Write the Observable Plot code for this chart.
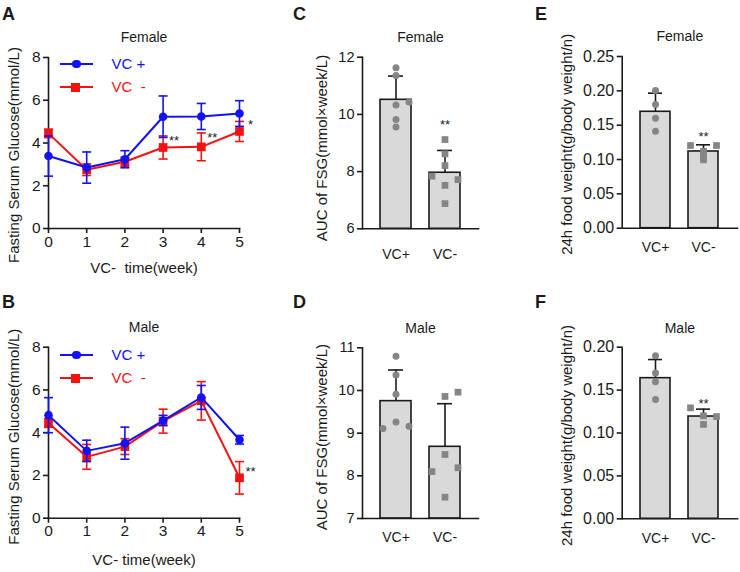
<!DOCTYPE html>
<html>
<head>
<meta charset="utf-8">
<script src="https://cdn.jsdelivr.net/npm/d3@7"></script>
<script src="https://cdn.jsdelivr.net/npm/@observablehq/plot@0.6"></script>
<style>
  body { margin: 0; background: #fff; }
  #fig { position: relative; width: 740px; height: 572px; overflow: hidden;
         font-family: "Liberation Sans", Arial, Helvetica, sans-serif; color: #1a1a1a; }
  #fig svg text { white-space: pre; }
  .letter { position: absolute; font-weight: bold; font-size: 18px; line-height: 1; }
  .lg-line { position: absolute; height: 2px; }
  .lg-text { position: absolute; font-size: 15px; line-height: 18px; white-space: pre; }
</style>
</head>
<body>
<div id="fig"></div>
<script>
// ---------------- data ----------------
const weeks = [0, 1, 2, 3, 4, 5];
const glucoseTicks = [0, 2, 4, 6, 8];
const groups = ["VC+", "VC-"];

// Panel A – Female fasting serum glucose (mean, SD)
const femalePlusMean  = [3.39, 2.85, 3.24, 5.23, 5.24, 5.38];
const femalePlusSD    = [0.94, 0.73, 0.40, 0.97, 0.61, 0.60];
const femaleMinusMean = [4.45, 2.75, 3.12, 3.79, 3.82, 4.54];
const femaleMinusSD   = [0.20, 0.27, 0.21, 0.54, 0.65, 0.47];
const femaleStarWeeks = [3, 4, 5];
const femaleStarY     = [4.25, 4.38, 4.98];
const femaleStarText  = ["**", "**", "*"];

// Panel B – Male fasting serum glucose
const malePlusMean  = [4.82, 3.15, 3.51, 4.57, 5.65, 3.67];
const malePlusSD    = [0.82, 0.50, 0.75, 0.24, 0.56, 0.20];
const maleMinusMean = [4.45, 2.87, 3.35, 4.54, 5.49, 1.89];
const maleMinusSD   = [0.20, 0.58, 0.37, 0.56, 0.90, 0.76];
const maleStarWeeks = [5];
const maleStarY     = [2.3];
const maleStarText  = ["**"];

// Panel C – AUC of FSG, Female
const aucFemaleMean = [10.51, 7.96];
const aucFemaleSD   = [0.83, 0.78];
const aucFemalePlus      = [11.63, 11.36, 10.43, 10.33, 9.82, 9.56];
const aucFemalePlusLane  = [0, 0, 1, 0, 0, 0];
const aucFemaleMinus     = [9.12, 8.62, 8.21, 7.84, 7.72, 7.52, 6.88];
const aucFemaleMinusLane = [0, 0, 0, -1, 1, 0, 0];
const aucFemaleTicks = [6, 8, 10, 12];

// Panel D – AUC of FSG, Male
const aucMaleMean = [9.75, 8.68];
const aucMaleSD   = [0.73, 1.01];
const aucMalePlus      = [10.80, 10.36, 9.91, 9.26, 9.11, 9.16];
const aucMalePlusLane  = [0, 0, 0, 0, -1, 1];
const aucMaleMinus     = [9.86, 9.96, 8.50, 8.10, 8.19, 7.50];
const aucMaleMinusLane = [0, 1, 0, -1, 1, 0];
const aucMaleTicks = [7, 8, 9, 10, 11];

// Panel E – 24h food weight, Female
const foodFemaleMean = [0.1695, 0.1117];
const foodFemaleSD   = [0.0271, 0.0097];
const foodFemalePlus      = [0.2005, 0.180, 0.160, 0.141];
const foodFemalePlusLane  = [0, 0, 0, 0];
const foodFemaleMinus     = [0.1204, 0.1204, 0.112, 0.105, 0.0995];
const foodFemaleMinusLane = [-1, 1, 0, 0, 0];
const foodFemaleTicks = [0, 0.05, 0.10, 0.15, 0.20, 0.25];

// Panel F – 24h food weight, Male
const foodMaleMean = [0.1639, 0.1192];
const foodMaleSD   = [0.0217, 0.0086];
const foodMalePlus      = [0.190, 0.170, 0.1596, 0.139];
const foodMalePlusLane  = [0, 0, 0, 0];
const foodMaleMinus     = [0.1293, 0.120, 0.1192, 0.110];
const foodMaleMinusLane = [-1, 0, 1, 0];
const foodMaleTicks = [0, 0.05, 0.10, 0.15, 0.20];

// ---------------- styling ----------------
const FONT = "Liberation Sans, Arial, Helvetica, sans-serif";
const INK = "#1a1a1a", BLUE = "#1212f2", RED = "#f21212";
const BAR_FILL = "#d9d9d9", DOT_FILL = "#858585";
const SW = 1.6;
const fig = document.getElementById("fig");

const capSymbol = {
  draw(ctx, size) { const r = Math.sqrt(size / Math.PI); ctx.moveTo(-r, 0); ctx.lineTo(r, 0); }
};

function place(node, left, top) {
  node.style.position = "absolute";
  node.style.left = left + "px";
  node.style.top = top + "px";
  fig.appendChild(node);
}
function baseStyle() {
  return {fontFamily: FONT, fontSize: "15px", color: INK, background: "transparent", overflow: "visible"};
}
function titleMarks(title, titleDy, yTitle, yDx, yDy, yTitleSize) {
  return [
    Plot.text([title], {text: d => d, frameAnchor: "top", dy: titleDy, lineAnchor: "middle",
                        textAnchor: "middle", fontSize: 14, fill: INK}),
    Plot.text([yTitle], {text: d => d, frameAnchor: "left", rotate: -90, dx: yDx, dy: yDy,
                         lineAnchor: "middle", textAnchor: "middle", fontSize: yTitleSize, fill: INK})
  ];
}

// ---------------- line panels (A, B) ----------------
function linePanel(p) {
  const rows = (grp, mean, sd) => weeks.map((w, i) => ({week: w, group: grp, mean: mean[i], lo: mean[i] - sd[i], hi: mean[i] + sd[i]}));
  const plus = rows("VC+", p.plusMean, p.plusSD);
  const minus = rows("VC-", p.minusMean, p.minusSD);
  const stars = p.starWeeks.map((w, i) => ({week: w, y: p.starY[i], label: p.starText[i]}));
  const marks = [
    Plot.frame({anchor: "left", stroke: INK, strokeWidth: SW}),
    Plot.frame({anchor: "bottom", stroke: INK, strokeWidth: SW}),
    Plot.axisY({ticks: glucoseTicks, tickFormat: d3.format("d"), tickSize: 5, tickPadding: 3, label: null, strokeWidth: SW, fontSize: 15.5}),
    Plot.axisX({ticks: weeks, tickFormat: d3.format("d"), tickSize: 5, tickPadding: 2, label: null, strokeWidth: SW, fontSize: 15.5})
  ];
  for (const [data, color, sym, r] of [[minus, RED, "square", 4.9], [plus, BLUE, "circle", 4.3]]) {
    marks.push(
      Plot.ruleX(data, {x: "week", y1: "lo", y2: "hi", stroke: color, strokeWidth: SW}),
      Plot.dot(data, {x: "week", y: "lo", symbol: capSymbol, r: 4.5, stroke: color, strokeWidth: SW, fill: "none"}),
      Plot.dot(data, {x: "week", y: "hi", symbol: capSymbol, r: 4.5, stroke: color, strokeWidth: SW, fill: "none"}),
      Plot.line(data, {x: "week", y: "mean", stroke: color, strokeWidth: 2}),
      Plot.dot(data, {x: "week", y: "mean", symbol: sym, r, fill: color, stroke: "none"})
    );
  }
  marks.push(
    Plot.text(stars, {x: "week", y: "y", text: "label", dx: 11, dy: 3, fontSize: 13, fill: INK, lineAnchor: "middle"}),
    Plot.text([p.xTitle], {text: d => d, frameAnchor: "bottom", dy: p.xTitleDy, lineAnchor: "middle", textAnchor: "middle", fontSize: 15, fill: INK}),
    ...titleMarks(p.title, -20, "Fasting Serum Glucose(mmol/L)", -34, p.yTitleDy, 15)
  );
  const svg = Plot.plot({
    width: p.w, height: p.h,
    marginLeft: p.ml, marginRight: p.mr, marginTop: p.mt, marginBottom: p.mb,
    x: {domain: [0, 5]},
    y: {domain: [0, 8]},
    style: baseStyle(),
    marks
  });
  place(svg, p.left, p.top);
}

// ---------------- bar panels (C–F) ----------------
function barPanel(p) {
  const base = p.yDomain[0];
  const bars = groups.map((g, i) => ({group: g, base, mean: p.mean[i], hi: p.mean[i] + p.sd[i]}));
  const pts = [
    ...p.plus.map((v, i) => ({group: "VC+", value: v, lane: p.plusLane[i]})),
    ...p.minus.map((v, i) => ({group: "VC-", value: v, lane: p.minusLane[i]}))
  ];
  const marks = [
    Plot.barY(bars, {x: "group", y1: "base", y2: "mean", fill: BAR_FILL, stroke: INK, strokeWidth: SW}),
    Plot.ruleX(bars, {x: "group", y1: "mean", y2: "hi", stroke: INK, strokeWidth: SW}),
    Plot.tickY(bars, {x: "group", y: "hi", stroke: INK, strokeWidth: SW, insetLeft: 8, insetRight: 8})
  ];
  for (const lane of [-1, 0, 1]) {
    marks.push(
      Plot.dot(pts.filter(d => d.lane === lane && d.group === "VC+"), {x: "group", y: "value", dx: lane * 13, r: 3.5, symbol: "circle", fill: DOT_FILL, stroke: "none"}),
      Plot.dot(pts.filter(d => d.lane === lane && d.group === "VC-"), {x: "group", y: "value", dx: lane * 13, r: 3.8, symbol: "square", fill: DOT_FILL, stroke: "none"})
    );
  }
  marks.push(
    Plot.frame({anchor: "left", stroke: INK, strokeWidth: SW}),
    Plot.frame({anchor: "bottom", stroke: INK, strokeWidth: SW}),
    Plot.axisY({ticks: p.ticks, tickFormat: p.tickFormat, tickSize: 5, tickPadding: 3, label: null, strokeWidth: SW, fontSize: p.tickSize}),
    Plot.axisX({tickSize: 0, tickPadding: p.catPad, label: null, fontSize: 14}),
    Plot.text(p.stars.map((y, i) => ({group: p.starGroups[i], y})), {x: "group", y: "y", text: () => "**", dy: 3, fontSize: 13, fill: INK, lineAnchor: "middle"}),
    ...titleMarks(p.title, p.titleDy, p.yTitle, p.yDx, p.yDy, 15)
  );
  const svg = Plot.plot({
    width: p.w, height: p.h,
    marginLeft: p.ml, marginRight: p.mr, marginTop: p.mt, marginBottom: p.mb,
    x: {type: "band", domain: groups, padding: 0.367},
    y: {domain: p.yDomain},
    style: baseStyle(),
    marks
  });
  place(svg, p.left, p.top);
}

// ---------------- legends & panel letters ----------------
function legend(y1, y2) {
  const rows = [[y1, BLUE, "VC +", "circle"], [y2, RED, "VC  -", "square"]];
  for (const [y, color, label, shape] of rows) {
    const line = document.createElement("div");
    line.className = "lg-line";
    Object.assign(line.style, {left: "60px", width: "33px", top: (y - 1) + "px", background: color});
    fig.appendChild(line);
    const m = document.createElement("div");
    const s = shape === "circle" ? 8.6 : 8.7;
    const cx = shape === "circle" ? 76.7 : 75.5;
    Object.assign(m.style, {position: "absolute", left: (cx - s / 2) + "px", top: (y - s / 2) + "px",
      width: s + "px", height: s + "px", background: color, borderRadius: shape === "circle" ? "50%" : "0"});
    fig.appendChild(m);
    const t = document.createElement("div");
    t.className = "lg-text";
    t.textContent = label;
    Object.assign(t.style, {left: "111.5px", top: (y - 9) + "px", color});
    fig.appendChild(t);
  }
}
function letter(ch, left, top) {
  const d = document.createElement("div");
  d.className = "letter";
  d.textContent = ch;
  d.style.left = left + "px";
  d.style.top = top + "px";
  fig.appendChild(d);
}

// ---------------- build ----------------
linePanel({left: 0, top: 0, w: 255, h: 285, ml: 48, mr: 16, mt: 57, mb: 57,
  plusMean: femalePlusMean, plusSD: femalePlusSD, minusMean: femaleMinusMean, minusSD: femaleMinusSD,
  starWeeks: femaleStarWeeks, starY: femaleStarY, starText: femaleStarText,
  title: "Female", xTitle: "VC-  time(week)", xTitleDy: 40, yTitleDy: 12});
linePanel({left: 0, top: 285, w: 255, h: 287, ml: 48, mr: 16, mt: 61.7, mb: 54.3,
  plusMean: malePlusMean, plusSD: malePlusSD, minusMean: maleMinusMean, minusSD: maleMinusSD,
  starWeeks: maleStarWeeks, starY: maleStarY, starText: maleStarText,
  title: "Male", xTitle: "VC- time(week)", xTitleDy: 42, yTitleDy: 4});

barPanel({left: 255, top: 0, w: 245, h: 285, ml: 107, mr: 22, mt: 56.7, mb: 56.7,
  yDomain: [6, 12], ticks: aucFemaleTicks, tickFormat: d3.format("d"), tickSize: 14.5, catPad: 20,
  mean: aucFemaleMean, sd: aucFemaleSD, plus: aucFemalePlus, plusLane: aucFemalePlusLane,
  minus: aucFemaleMinus, minusLane: aucFemaleMinusLane, stars: [9.75], starGroups: ["VC-"],
  title: "Female", titleDy: -20, yTitle: "AUC of FSG(mmol×week/L)", yDx: -40, yDy: 5});
barPanel({left: 255, top: 285, w: 245, h: 287, ml: 107, mr: 22, mt: 62.3, mb: 54,
  yDomain: [7, 11], ticks: aucMaleTicks, tickFormat: d3.format("d"), tickSize: 14.5, catPad: 14,
  mean: aucMaleMean, sd: aucMaleSD, plus: aucMalePlus, plusLane: aucMalePlusLane,
  minus: aucMaleMinus, minusLane: aucMaleMinusLane, stars: [], starGroups: [],
  title: "Male", titleDy: -19.5, yTitle: "AUC of FSG(mmol×week/L)", yDx: -40, yDy: 4});
barPanel({left: 500, top: 0, w: 240, h: 285, ml: 121.7, mr: 3, mt: 56, mb: 57.3,
  yDomain: [0, 0.25], ticks: foodFemaleTicks, tickFormat: d3.format(".2f"), tickSize: 16, catPad: 14,
  mean: foodFemaleMean, sd: foodFemaleSD, plus: foodFemalePlus, plusLane: foodFemalePlusLane,
  minus: foodFemaleMinus, minusLane: foodFemaleMinusLane, stars: [0.138], starGroups: ["VC-"],
  title: "Female", titleDy: -19.5, yTitle: "24h food weight(g/body weight/n)", yDx: -55, yDy: 2});
barPanel({left: 500, top: 285, w: 240, h: 287, ml: 121.7, mr: 3, mt: 61.7, mb: 53.7,
  yDomain: [0, 0.20], ticks: foodMaleTicks, tickFormat: d3.format(".2f"), tickSize: 16, catPad: 14,
  mean: foodMaleMean, sd: foodMaleSD, plus: foodMalePlus, plusLane: foodMalePlusLane,
  minus: foodMaleMinus, minusLane: foodMaleMinusLane, stars: [0.137], starGroups: ["VC-"],
  title: "Male", titleDy: -19, yTitle: "24h food weight(g/body weight/n)", yDx: -55, yDy: 2.5});

legend(64, 87.3);
legend(355, 378.3);

letter("A", 2, 4.7);
letter("B", 2, 292.7);
letter("C", 293, 4.7);
letter("D", 293, 292.7);
letter("E", 535, 4.7);
letter("F", 535, 292.7);
</script>
</body>
</html>
